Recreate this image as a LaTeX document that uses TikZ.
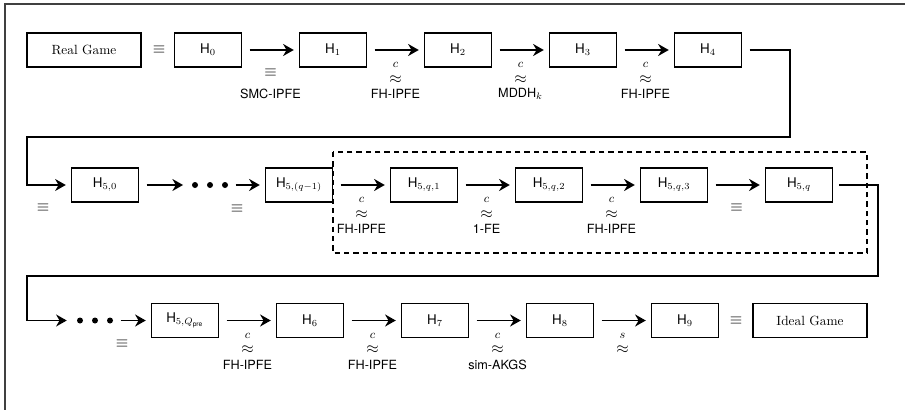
\documentclass[tikz,border=0pt]{standalone}
\usepackage{fontspec}
\setsansfont{TeX Gyre Heros}
\usetikzlibrary{arrows.meta,calc}
\begin{document}
\begin{tikzpicture}[x=0.75pt,y=-0.75pt,
  game/.style={draw, line width=1.1pt, minimum width=50.25pt, minimum height=25.5pt, inner sep=2pt, font=\sffamily},
  widegame/.style={game, font=\rmfamily, minimum width=85.5pt},
  arr/.style={line width=1.3pt, -{Stealth[length=8pt,width=9pt]}, shorten <=5.6pt, shorten >=3.75pt},
  conn/.style={line width=0.9pt, -{Stealth[length=8pt,width=9pt]}},
  rel/.style={inner sep=0pt, font=\large},
  approxrel/.style={inner sep=0pt, font=\large, yshift=-22pt},
  suprel/.style={inner sep=0pt, font=\small, yshift=-11.5pt},
  eqrel/.style={inner sep=0pt, font=\large, yshift=-17pt},
  lab/.style={font=\sffamily\fontsize{9.5}{11}\selectfont, inner sep=0pt, yshift=-33pt},
  dotnode/.style={circle, fill, inner sep=0pt, minimum size=4.5pt},
  outerline/.style={draw=black!75, line width=0.8pt},
  grp/.style={line width=1pt, dash pattern=on 4pt off 3pt}
]
\useasboundingbox (0,0) rectangle (905,410);
\draw[outerline] (905,4) -- (5,4) -- (5,410);

% row 1
\node[widegame] (real) at (84,50) {Real Game};
\node[rel] (eq0) at (159,50) {$\equiv$};
\node[game] (h0) at (208,50) {H$_0$};
\node[game] (h1) at (333,50) {H$_1$};
\node[game] (h2) at (458,50) {H$_2$};
\node[game] (h3) at (583,50) {H$_3$};
\node[game] (h4) at (708,50) {H$_4$};

\draw[arr] (h0) -- node[eqrel] (r01) {$\equiv$} node[lab] (l01) {SMC-IPFE} (h1);
\draw[arr] (h1) -- node[approxrel] (r12) {$\approx$} node[suprel] (s12) {$c$} node[lab] (l12) {FH-IPFE} (h2);
\draw[arr] (h2) -- node[approxrel] (r23) {$\approx$} node[suprel] (s23) {$c$} node[lab] (l23) {MDDH$_k$} (h3);
\draw[arr] (h3) -- node[approxrel] (r34) {$\approx$} node[suprel] (s34) {$c$} node[lab] (l34) {FH-IPFE} (h4);

% row 2
\node[game] (h50) at (105,185) {H$_{5,0}$};
\node[dotnode] (da1) at (195,185) {};
\node[dotnode] (da2) at (210,185) {};
\node[dotnode] (da3) at (225,185) {};
\node[game] (h5qm) at (299,185) {H$_{5,(q-1)}$};
\node[game] (h5q1) at (424,185) {H$_{5,q,1}$};
\node[game] (h5q2) at (549,185) {H$_{5,q,2}$};
\node[game] (h5q3) at (674,185) {H$_{5,q,3}$};
\node[game] (h5q) at (799,185) {H$_{5,q}$};

\draw[grp] (333,152) rectangle (867,253);

\coordinate (c1a) at (790,137);
\coordinate (c1b) at (27,137);
\draw[conn, shorten >=3.75pt] ([xshift=5.6pt]h4.east) -| (c1a) -- (c1b) |- (h50);
\node[rel] (e50) at (43,208) {$\equiv$};

\draw[arr, shorten >=6.5pt] (h50) -- (da1);
\draw[arr] (da3) -- (h5qm);
\node[rel] (e5qm) at (237,209) {$\equiv$};
\draw[arr] (h5qm) -- node[approxrel] (r5a) {$\approx$} node[suprel] (s5a) {$c$} node[lab] (l5a) {FH-IPFE} (h5q1);
\draw[arr] (h5q1) -- node[approxrel] (r5b) {$\approx$} node[suprel] (s5b) {$c$} node[lab] (l5b) {1-FE} (h5q2);
\draw[arr] (h5q2) -- node[approxrel] (r5c) {$\approx$} node[suprel] (s5c) {$c$} node[lab] (l5c) {FH-IPFE} (h5q3);
\draw[arr] (h5q3) -- node[eqrel] (r5d) {$\equiv$} (h5q);

% row 3
\node[dotnode] (db1) at (80,320.5) {};
\node[dotnode] (db2) at (95,320.5) {};
\node[dotnode] (db3) at (110,320.5) {};
\node[game] (h5Q) at (185,320.5) {H$_{5,Q_{\mathsf{pre}}}$};
\node[game] (h6) at (310,320.5) {H$_6$};
\node[game] (h7) at (435,320.5) {H$_7$};
\node[game] (h8) at (560,320.5) {H$_8$};
\node[game] (h9) at (685,320.5) {H$_9$};
\node[rel] (eq9) at (736,320.5) {$\equiv$};
\node[widegame] (ideal) at (810,320.5) {Ideal Game};

\coordinate (c2a) at (878,276);
\coordinate (c2b) at (27,276);
\draw[conn, shorten >=7.5pt] ([xshift=4.5pt]h5q.east) -| (c2a) -- (c2b) |- (db1);

\draw[arr] (db3) -- (h5Q);
\node[rel] (e5Q) at (122,344) {$\equiv$};
\draw[arr] (h5Q) -- node[approxrel] (r6) {$\approx$} node[suprel] (s6) {$c$} node[lab] (l6) {FH-IPFE} (h6);
\draw[arr] (h6) -- node[approxrel] (r7) {$\approx$} node[suprel] (s7) {$c$} node[lab] (l7) {FH-IPFE} (h7);
\draw[arr] (h7) -- node[approxrel] (r8) {$\approx$} node[suprel] (s8) {$c$} node[lab] (l8) {sim-AKGS} (h8);
\draw[arr] (h8) -- node[approxrel] (r9) {$\approx$} node[suprel] (s9) {$s$} (h9);
\end{tikzpicture}
\end{document}
